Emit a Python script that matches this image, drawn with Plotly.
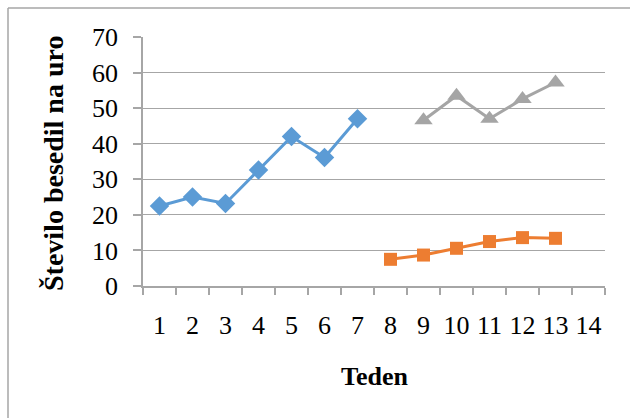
import plotly.graph_objects as go

weeks = [str(i) for i in range(1, 15)]

s1_weeks = ["1", "2", "3", "4", "5", "6", "7"]
s1_values = [22.5, 25.0, 23.2, 32.6, 42.0, 36.1, 47.0]

s2_weeks = ["8", "9", "10", "11", "12", "13"]
s2_values = [7.5, 8.7, 10.6, 12.5, 13.6, 13.4]

s3_weeks = ["9", "10", "11", "12", "13"]
s3_values = [46.6, 53.5, 47.0, 52.6, 57.2]

y_ticks = [0, 10, 20, 30, 40, 50, 60, 70]

FONT = "Liberation Serif"
GRID = "#a6a6a6"

fig = go.Figure()
fig.add_trace(go.Scatter(x=s1_weeks, y=s1_values, mode="lines+markers",
                         line=dict(color="#5B9BD5", width=3),
                         marker=dict(symbol="diamond", size=15, color="#5B9BD5")))
fig.add_trace(go.Scatter(x=s2_weeks, y=s2_values, mode="lines+markers",
                         line=dict(color="#ED7D31", width=3),
                         marker=dict(symbol="square", size=13, color="#ED7D31")))
fig.add_trace(go.Scatter(x=s3_weeks, y=s3_values, mode="lines+markers",
                         line=dict(color="#A5A5A5", width=3),
                         marker=dict(symbol="triangle-up", size=16, color="#A5A5A5")))

L, R, T, B = 143, 25, 37, 132
W, H = 630, 418
pw, ph = W - L - R, H - T - B

fig.update_layout(
    width=W, height=H,
    margin=dict(l=L, r=R, t=T, b=B, pad=0),
    paper_bgcolor="white", plot_bgcolor="white",
    showlegend=False,
    font=dict(family=FONT, color="black"),
    xaxis=dict(type="category", categoryorder="array", categoryarray=weeks,
               range=[-0.5, 13.5], tickmode="array", tickvals=weeks, ticktext=weeks,
               tickson="boundaries", ticks="outside", ticklen=7, tickcolor=GRID,
               tickwidth=1.5, showline=True, linecolor=GRID, linewidth=1.5,
               showgrid=False, tickfont=dict(size=26, family=FONT), tickangle=0,
               ticklabelstandoff=15, zeroline=False),
    yaxis=dict(range=[0, 70], tickvals=y_ticks, ticks="outside", ticklen=8,
               tickcolor=GRID, tickwidth=1.5, showline=True, linecolor=GRID,
               linewidth=1.5, showgrid=True, gridcolor=GRID, gridwidth=1.2,
               tickfont=dict(size=26, family=FONT), ticklabelstandoff=10,
               zeroline=False),
)

fig.add_annotation(text="<b>Število besedil na uro</b>", textangle=-90,
                   xref="paper", yref="paper", x=(53 - L) / pw, y=(H - B - 164) / ph,
                   xanchor="center", yanchor="middle", showarrow=False,
                   font=dict(size=28, family=FONT, color="black"))
fig.add_annotation(text="<b>Teden</b>",
                   xref="paper", yref="paper", x=(374 - L) / pw, y=(H - B - 376) / ph,
                   xanchor="center", yanchor="middle", showarrow=False,
                   font=dict(size=26, family=FONT, color="black"))

# outer chart border (only top and left visible in the crop)
bx0 = (8 - L) / pw
by0 = (H - B - 8) / ph
fig.add_shape(type="line", xref="paper", yref="paper", x0=bx0, x1=(W + 5 - L) / pw,
              y0=by0, y1=by0, line=dict(color=GRID, width=1.5), layer="above")
fig.add_shape(type="line", xref="paper", yref="paper", x0=bx0, x1=bx0,
              y0=by0, y1=(H - B - H - 5) / ph, line=dict(color=GRID, width=1.5), layer="above")

fig.write_html("out.html", config={"displayModeBar": False},
               post_script="document.body.style.margin='0';document.body.style.overflow='hidden';")
